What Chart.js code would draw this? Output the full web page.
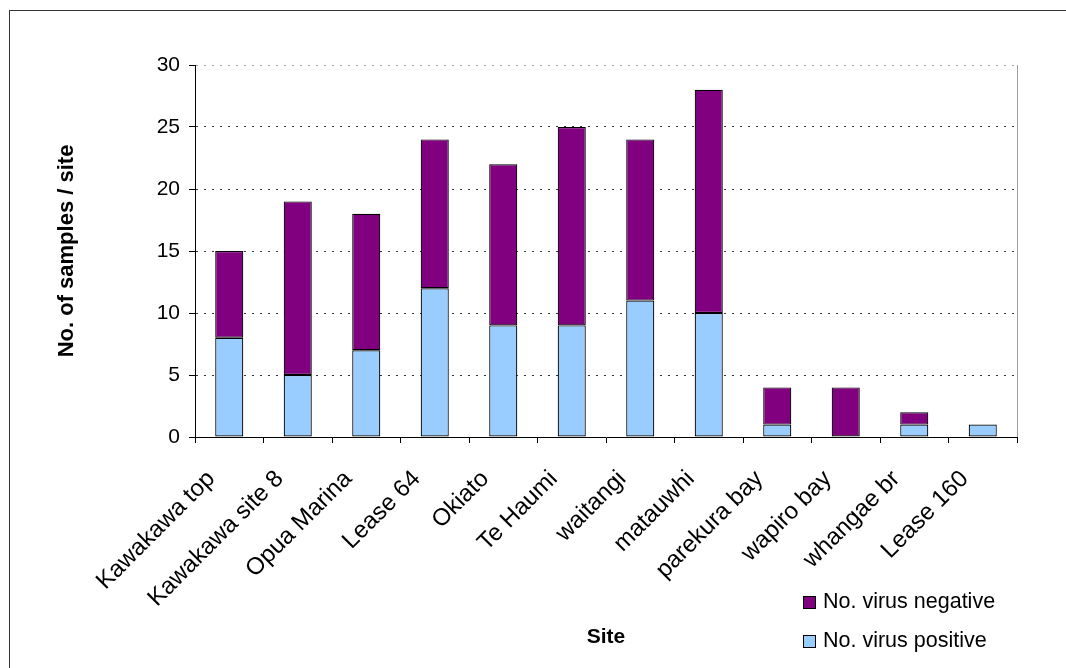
<!DOCTYPE html>
<html>
<head>
<meta charset="utf-8">
<script src="https://cdn.jsdelivr.net/npm/chart.js@4/dist/chart.umd.min.js"></script>
<style>
  html, body { margin: 0; padding: 0; background: #fff; overflow: hidden; }
  #wrap { position: relative; width: 1066px; height: 668px; }
  #frame { position: absolute; left: 9px; top: 10px; width: 1100px; height: 700px; border: 1px solid #333; }
  #chart { position: absolute; left: 0; top: 0; }
  .legend { position: absolute; left: 803px; font: 21.5px "Liberation Sans", Arial, sans-serif; color: #000; }
  .legend span.box { display: inline-block; width: 11px; height: 11px; border: 1px solid #000; margin-right: 7px; vertical-align: -1px; }
</style>
</head>
<body>
<div id="wrap">
  <div id="frame"></div>
  <canvas id="chart" width="1066" height="668"></canvas>
  <div class="legend" style="top: 589px;"><span class="box" style="background:#800080"></span>No. virus negative</div>
  <div class="legend" style="top: 628px;"><span class="box" style="background:#99CCFF"></span>No. virus positive</div>
</div>
<script>
// Data
const sites = ['Kawakawa top', 'Kawakawa site 8', 'Opua Marina', 'Lease 64', 'Okiato', 'Te Haumi',
  'waitangi', 'matauwhi', 'parekura bay', 'wapiro bay', 'whangae br', 'Lease 160'];
const virusPositive = [8, 5, 7, 12, 9, 9, 11, 10, 1, 0, 1, 1];
const virusNegative = [7, 14, 11, 12, 13, 16, 13, 18, 3, 4, 1, 0];
const yTicks = [0, 5, 10, 15, 20, 25, 30];

const FONT = '"Liberation Sans", Arial, sans-serif';

// grey frame on the right side of the plot area
const plotFrame = {
  id: 'plotFrame',
  afterDraw(chart) {
    const { ctx, chartArea: a } = chart;
    ctx.save();
    ctx.strokeStyle = '#a0a0a0';
    ctx.lineWidth = 1;
    ctx.beginPath();
    ctx.moveTo(a.right + 0.5, a.top);
    ctx.lineTo(a.right + 0.5, a.bottom);
    ctx.stroke();
    ctx.restore();
  }
};

new Chart(document.getElementById('chart'), {
  type: 'bar',
  data: {
    labels: sites,
    datasets: [
      {
        label: 'No. virus positive',
        data: virusPositive,
        backgroundColor: '#99CCFF',
        borderColor: '#000',
        borderWidth: 1.2,
        borderSkipped: false
      },
      {
        label: 'No. virus negative',
        data: virusNegative,
        backgroundColor: '#800080',
        borderColor: '#000',
        borderWidth: 1.2,
        borderSkipped: false
      }
    ]
  },
  options: {
    responsive: false,
    animation: false,
    layout: { padding: { top: 65, right: 49, left: 0, bottom: 0 } },
    datasets: { bar: { barPercentage: 0.41, categoryPercentage: 1 } },
    plugins: { legend: { display: false }, tooltip: { enabled: false } },
    scales: {
      x: {
        stacked: true,
        offset: true,
        grid: { offset: true, drawOnChartArea: false, tickLength: 6, tickColor: '#000' },
        border: { color: '#000', width: 1 },
        ticks: { color: '#000', font: { family: FONT, size: 24 }, minRotation: 45, maxRotation: 45, padding: 22, labelOffset: -18 },
        title: { display: true, text: 'Site', color: '#000', font: { family: FONT, size: 21, weight: 'bold' }, padding: { top: 0, bottom: 18 } },
        afterFit(scale) { scale.height = 231; }
      },
      y: {
        stacked: true,
        min: 0,
        max: 30,
        afterBuildTicks(scale) { scale.ticks = yTicks.map(v => ({ value: v })); },
        grid: {
          color: ctx => (ctx.tick && ctx.tick.value === 30 ? '#a0a0a0' : '#333'),
          lineWidth: 1,
          tickLength: 6,
          tickColor: '#000',
          tickBorderDash: []
        },
        border: { color: '#000', width: 1, dash: [2, 6] },
        ticks: { color: '#000', font: { family: FONT, size: 21 }, padding: 9 },
        title: { display: true, text: 'No. of samples / site', color: '#000', font: { family: FONT, size: 22, weight: 'bold' }, padding: { top: 54, bottom: 0 } },
        afterFit(scale) { scale.width = 195; }
      }
    }
  },
  plugins: [plotFrame]
});
</script>
</body>
</html>
